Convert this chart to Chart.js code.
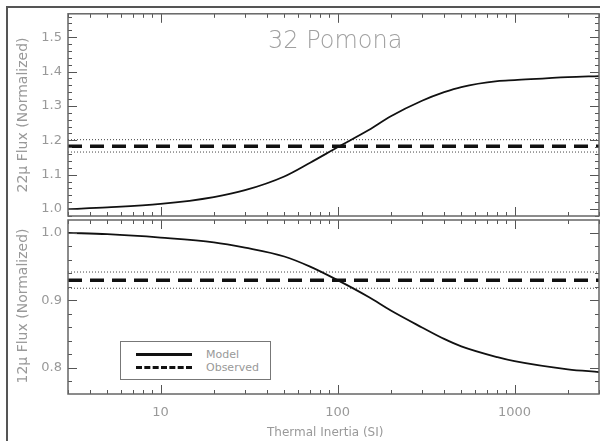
<!DOCTYPE html>
<html>
<head>
<meta charset="utf-8">
<script src="https://cdn.jsdelivr.net/npm/chart.js@4/dist/chart.umd.min.js"></script>
<style>
body{margin:0;background:#fff;width:600px;height:441px;overflow:hidden;position:relative;font-family:"DejaVu Sans",sans-serif}
canvas{position:absolute;left:0;top:0}
#frame{position:absolute;left:6px;top:6px;width:620px;height:460px;border:2px solid #555}
.txt{position:absolute;color:#999;white-space:nowrap}
.ytitle{transform:translate(-50%,-50%) rotate(-90deg);font-size:14px}
#legend{position:absolute;left:120px;top:341px;width:149px;height:37px;border:1px solid #777;background:#fff}
.lrow{position:absolute;left:15px;height:0;width:56px}
.lrow span{position:absolute;left:70px;top:-8px;font-size:11px;color:#999}
</style>
</head>
<body>
<div id="frame"></div>
<canvas id="topChart" width="600" height="441"></canvas>
<canvas id="bottomChart" width="600" height="441"></canvas>
<div class="txt" style="left:268px;top:26px;font-size:24px;font-weight:300;color:#a0a0a0">32 Pomona</div>
<div class="txt ytitle" style="left:22px;top:115px">22μ Flux (Normalized)</div>
<div class="txt ytitle" style="left:22px;top:306px">12μ Flux (Normalized)</div>
<div class="txt" style="left:267px;top:425px;font-size:12px">Thermal Inertia (SI)</div>
<div id="legend"></div>
<script>
// thermal inertia samples
let inertia=[3,5,10,20,30,50,70,100,150,200,300,400,500,800,1000,2000,3000]
let flux22=[1.000,1.005,1.015,1.035,1.055,1.095,1.135,1.180,1.230,1.270,1.315,1.340,1.355,1.372,1.375,1.384,1.387]
let flux12=[1.000,0.998,0.993,0.986,0.978,0.965,0.950,0.930,0.905,0.885,0.860,0.843,0.832,0.816,0.810,0.798,0.794]

let obs22=1.183, obs22Lo=1.166, obs22Hi=1.202
let obs12=0.930, obs12Lo=0.918, obs12Hi=0.942

let xTickLabels=[10,100,1000]
let topYTicks=[1.0,1.1,1.2,1.3,1.4,1.5]
let bottomYTicks=[0.8,0.9,1.0]

let legendLabels=["Model","Observed"]

let xMin=3, xMax=3000

function line(ys){
return inertia.map((x,i)=>({x:x,y:ys[i]}))
}
function flat(v){
return [{x:xMin,y:v},{x:xMax,y:v}]
}

function makeSets(model,obs,lo,hi){
return [
{label:legendLabels[0],data:line(model),borderColor:"#111",borderWidth:1.8,pointRadius:0,cubicInterpolationMode:"monotone"},
{label:legendLabels[1],data:flat(obs),borderColor:"#111",borderWidth:3.5,borderDash:[14,8],pointRadius:0},
{label:"lo",data:flat(lo),borderColor:"#444",borderWidth:1,borderDash:[1,2],pointRadius:0},
{label:"hi",data:flat(hi),borderColor:"#444",borderWidth:1,borderDash:[1,2],pointRadius:0}
]
}

/* inward ticks on all four sides, idl style */
let boxTicks={
id:"boxTicks",
afterDatasetsDraw(chart){
let ctx=chart.ctx
let a=chart.chartArea
let x=chart.scales.x
let y=chart.scales.y
ctx.save()
ctx.strokeStyle="#555"
ctx.lineWidth=1
ctx.beginPath()
for(let d=1;d<=1000;d*=10){
for(let m=1;m<=9;m++){
let v=d*m
if(v<xMin||v>xMax) continue
let px=Math.round(x.getPixelForValue(v))+0.5
let len=m==1?9:4
ctx.moveTo(px,a.bottom);ctx.lineTo(px,a.bottom-len)
ctx.moveTo(px,a.top);ctx.lineTo(px,a.top+len)
}
}
let start=Math.ceil(y.min/0.02-1e-6)
for(let k=start;k*0.02<=y.max+1e-6;k++){
let v=k*0.02
let py=Math.round(y.getPixelForValue(v))+0.5
let len=(k%5==0)?9:4
ctx.moveTo(a.left,py);ctx.lineTo(a.left+len,py)
ctx.moveTo(a.right,py);ctx.lineTo(a.right-len,py)
}
ctx.stroke()
ctx.lineWidth=1.5
ctx.strokeStyle="#666"
ctx.strokeRect(a.left,a.top,a.right-a.left,a.bottom-a.top)
ctx.restore()
}
}

let tickFont={family:"DejaVu Sans",size:13}

function makeChart(id,sets,yMin,yMax,yTicks,pad,showX){
return new Chart(document.getElementById(id),{
type:"line",
data:{datasets:sets},
options:{
responsive:false,
animation:false,
events:[],
layout:{padding:pad},
plugins:{legend:{display:false},tooltip:{enabled:false}},
scales:{
x:{
type:"logarithmic",
min:xMin,max:xMax,
display:showX,
afterBuildTicks:s=>{s.ticks=xTickLabels.map(v=>({value:v}))},
afterFit:s=>{s.height=showX?47:0},
grid:{display:false,drawTicks:false},
border:{display:false},
ticks:{color:"#999",font:tickFont,padding:11,maxRotation:0,autoSkip:false,callback:v=>String(v)}
},
y:{
type:"linear",
min:yMin,max:yMax,
afterBuildTicks:s=>{s.ticks=yTicks.map(v=>({value:v}))},
afterFit:s=>{s.width=68},
grid:{display:false,drawTicks:false},
border:{display:false},
ticks:{color:"#999",font:tickFont,padding:6,callback:v=>v.toFixed(1)}
}
}
},
plugins:[boxTicks]
})
}

let topChart=makeChart("topChart",makeSets(flux22,obs22,obs22Lo,obs22Hi),0.98,1.568,topYTicks,{left:0,right:1,top:9,bottom:225},false)
let bottomChart=makeChart("bottomChart",makeSets(flux12,obs12,obs12Lo,obs12Hi),0.7615,1.019,bottomYTicks,{left:0,right:1,top:220,bottom:0},true)

/* legend */
let leg=document.getElementById("legend")
let styles=["3px solid #111","3px dashed #111"]
legendLabels.forEach((t,i)=>{
let r=document.createElement("div")
r.className="lrow"
r.style.top=(11+i*13)+"px"
r.style.borderTop=styles[i]
let s=document.createElement("span")
s.innerText=t
r.appendChild(s)
leg.appendChild(r)
})
</script>
</body>
</html>
